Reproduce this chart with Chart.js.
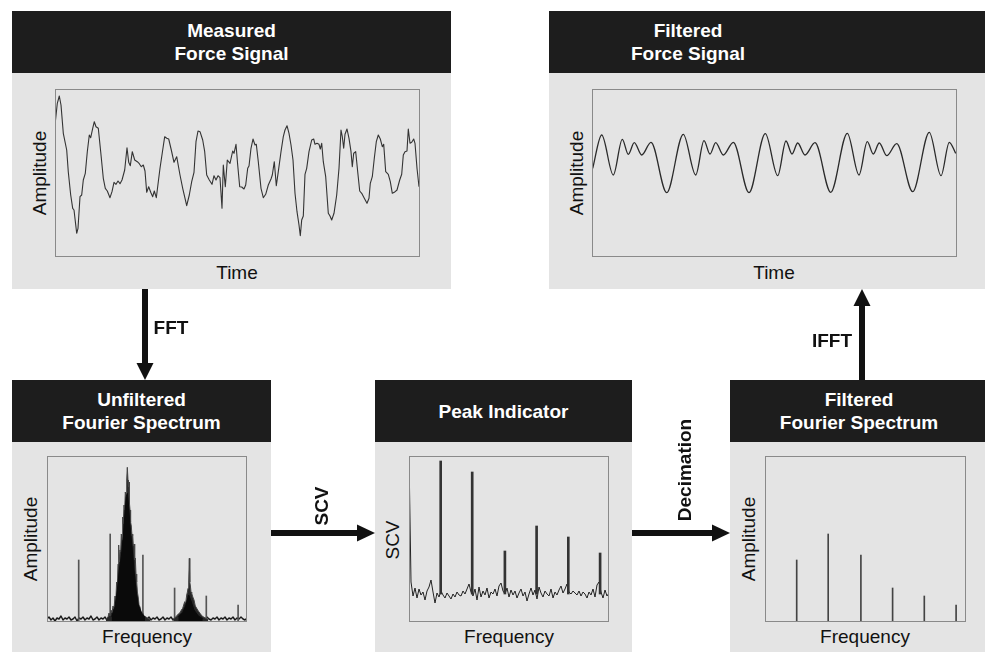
<!DOCTYPE html>
<html>
<head>
<meta charset="utf-8">
<script src="https://cdn.jsdelivr.net/npm/chart.js@4.4.1/dist/chart.umd.min.js"></script>
<style>
  body { margin:0; width:985px; height:652px; overflow:hidden; background:#fff; position:relative;
         font-family:"Liberation Sans", Arial, Helvetica, sans-serif; }
  .panel { position:absolute; background:#e4e4e4; }
  .head { position:absolute; left:0; top:0; right:0; height:62px; background:#1d1d1d; color:#fff;
          font-weight:bold; font-size:19px; line-height:23px; display:flex; flex-direction:column;
          align-items:center; justify-content:center; text-align:center; }
  .head.narrow { align-items:flex-start; }
  .head.narrow div { width:278px; }
  canvas { position:absolute; display:block; }
  .lbl { position:absolute; font-size:19px; color:#111; white-space:nowrap; transform:translate(-50%,-50%); }
  .rot { transform:translate(-50%,-50%) rotate(-90deg); }
  .b { font-weight:bold; }
  svg { position:absolute; left:0; top:0; }
</style>
</head>
<body>

<div class="panel" style="left:12px;top:11px;width:439px;height:278px"><div class="head"><div>Measured</div><div>Force Signal</div></div></div>
<div class="panel" style="left:549px;top:11px;width:439px;height:278px"><div class="head narrow"><div>Filtered</div><div>Force Signal</div></div></div>
<div class="panel" style="left:12px;top:380px;width:259px;height:280px"><div class="head"><div>Unfiltered</div><div>Fourier Spectrum</div></div></div>
<div class="panel" style="left:375px;top:380px;width:257px;height:280px"><div class="head"><div>Peak Indicator</div></div></div>
<div class="panel" style="left:730px;top:380px;width:258px;height:280px"><div class="head"><div>Filtered</div><div>Fourier Spectrum</div></div></div>

<canvas id="measured" width="365" height="168" style="left:55px;top:89px"></canvas>
<canvas id="filtered" width="365" height="168" style="left:592px;top:89px"></canvas>
<canvas id="spectrum" width="200" height="166" style="left:47px;top:456px"></canvas>
<canvas id="scv" width="200" height="166" style="left:409px;top:456px"></canvas>
<canvas id="filteredSpectrum" width="201" height="166" style="left:765px;top:456px"></canvas>

<div class="lbl" style="left:237px;top:273px">Time</div>
<div class="lbl rot" style="left:40px;top:173px">Amplitude</div>
<div class="lbl" style="left:774px;top:273px">Time</div>
<div class="lbl rot" style="left:577px;top:173px">Amplitude</div>
<div class="lbl rot" style="left:31px;top:539px">Amplitude</div>
<div class="lbl" style="left:147px;top:637px">Frequency</div>
<div class="lbl rot" style="left:393px;top:540px">SCV</div>
<div class="lbl" style="left:509px;top:637px">Frequency</div>
<div class="lbl rot" style="left:749px;top:539px">Amplitude</div>
<div class="lbl" style="left:865px;top:637px">Frequency</div>

<svg width="985" height="652">
  <g fill="#111">
    <rect x="142" y="289" width="6" height="75"/>
    <polygon points="136.5,363 153.5,363 145,380"/>
    <rect x="859" y="305" width="6" height="75"/>
    <polygon points="853.5,306 870.5,306 862,289"/>
    <rect x="271" y="530" width="87" height="6"/>
    <polygon points="357,524.5 357,541.5 375,533"/>
    <rect x="632" y="530" width="81" height="6"/>
    <polygon points="712,524.5 712,541.5 730,533"/>
  </g>
</svg>
<div class="lbl b" style="left:171px;top:328px">FFT</div>
<div class="lbl b" style="left:832px;top:341px">IFFT</div>
<div class="lbl b rot" style="left:322px;top:506px">SCV</div>
<div class="lbl b rot" style="left:685px;top:470px">Decimation</div>

<script>
// raw force trace (time, amplitude)
const measuredTime = [0,2.3,4.3,6,8.3,11.7,13.3,15.7,17.7,19,21.7,23,25,26.7,28.3,30.3,32.3,34.3,35.7,37.7,
  39.3,41,43.3,45.7,48.3,50.3,52.3,55,57,59,61,63,65,67,69.7,72,73.7,75.3,77.3,79.7,
  82.3,84.3,86.3,88.3,90,91.7,93.7,95.7,97.7,99.3,101.3,103.3,105,107.7,109.7,111.7,113.7,116.3,119,121.7,
  125,127.7,131.7,134.3,136.7,139,141,143,145,147.7,149.7,151.7,154.3,157,159,161,163,165,167,168.3,
  170.3,172.3,175,177.7,179,181,
  182.7,184.7,186.7,189,190.7,192.7,194,196,198,200,201.3,203.3,206,208.3,210.7,213.3,216,217.3,219.3,221.3,
  223.3,226,228.3,230,232,234,236,238,240,242,244,245.3,246.7,248.3,250,251.7,254,256.7,258.7,260,
  262,264,265.3,266.7,268.3,270.7,273.3,275,276.7,279,281.7,284,286,287.3,288.7,290,292,294,296,297.3,
  298.7,300.7,302.7,304.7,306.7,309.3,312,314,315.3,317.3,319.3,321.3,323.3,325.3,327.3,328.7,330.7,333.3,335.3,337.3,
  339.3,342,344.7,346.7,348.3,350,352,353.3,355,356.7,358.7,360,362,364];
const measuredAmp = [132,153.7,161,152,123.7,107,85,62,48.7,47,23.7,28.7,60.3,62,77,83.7,105.3,122,119.3,128.7,
  135.3,130.3,128.7,105.3,78.7,68.7,66,59.3,65.3,74.7,72.7,76,73.3,77,87,109.3,94.7,91.3,105.3,97,
  95.3,93.3,90.3,92,86,64.7,70.3,64.7,60.3,66,59.3,75.3,88.7,107,120.3,118.7,118,107,94.7,100.3,
  82,68.7,51.3,62,75.3,84.7,115.3,126,125.3,117,105.3,82,77,72.7,81.3,77,81.3,79.3,48.7,92,
  70.3,97,93.7,106,103.7,112.7,
  92,70.3,70,68,72,88.7,91,108.7,118,112,112.7,95.3,68.7,59.3,62.7,72,78,82,95.3,71.3,
  85.3,105.3,120.3,127,131.3,123.7,112,97,63.7,45.3,32,21.3,37,41,82.7,88.7,105.3,117,118,112.7,
  113.7,112.7,108,113.7,95.3,80.3,43.7,41,37,43.7,62,88.7,127,120.3,108.7,122.7,128,118.7,105.3,90.3,
  103.7,105.3,85.3,66,63.7,58.7,53.7,58.7,73.7,80.3,98.7,115.3,122,118,110.3,112.7,85.3,82.7,75.3,63.7,
  64.7,67,77,82.7,102,105.3,106,128,113.7,114.7,118,113.7,88.7,70.3];

// reconstructed signal, turning points only
const filteredTime = [0.7,9.7,21.3,30.3,36.3,42.3,49.7,59,74.7,91.3,103.7,112,118,123.7,131.3,141.3,
  157,173.3,185.7,194,200,205.7,213,223,238.7,255.3,267,275.3,281.3,287.3,294.7,304.7,320.7,337.3,349,357.3,363.7];
const filteredAmp = [88.7,122,82,117.7,102.7,114.3,102,114.7,64.3,122.7,82,116.3,103,114.3,102,114.7,
  64.3,123.3,81.3,116,103,114,102,114.3,64.7,123.7,82,115.3,103,114,101.3,113.3,65.3,124.7,81.3,114.7,103.7];

// harmonics kept by the filter
const harmonicFreq = [31.7,63.2,95.9,127.6,159.3,191.1];
const harmonicAmp = [62,88,67,34,26,17];
const harmonicScv = [161,150,71,96,85,69];
const scvFloor = 28;

// spectrum floor, sampled every 2 frequency units
const baselineNoise = [3,5,2,4,1,4,3,6,2,4,3,5,2,3,5,1,4,3,5,2,4,3,6,2,3,5,2,4,3,5,
  2,4,3,5,3,1,4,2,5,3,4,2,5,3,2,4,3,5,2,4,3,5,2,4,3,5,2,3,5,2,
  4,3,5,2,4,3,5,3,2,4,3,5,2,4,3,1,5,3,4,2,5,3,2,4,3,5,2,4,3,5,
  2,4,3,5,2,4,3,5,3,2,4];

// broadband humps: outer envelope (ragged strands) and dense core
const envelopeFreq = [59,61,62,63,64,65,66,67,68,68.8,69.6,70.3,71,71.7,72.3,73,73.7,74.3,75,75.7,76.3,77,77.7,78.3,79,79.7,
  80.3,81,81.5,82,82.5,83,83.6,84.3,85,85.7,86.3,87,87.7,88.3,89,89.7,90.4,91.3,92,93,94,95.7,97,99,101,103,
  115,
  126.3,128,129.7,131.3,133,134.4,135.7,136.7,137.7,138.7,139.7,140.4,141,141.7,142.3,142.8,143.4,144,144.7,145.8,147,148.3,149.7,151.3,153,155,157,159,161.3];
const envelopeAmp = [2.7,5,9,6,12,9,16,13,26,20,40,34,58,77,60,72,70,88,82,105,98,117,112,130,125,142,
  154.7,142,135,140,118,112,100,96,86,88,76,78,62,64,48,40,30,24,17,15,10,9,6,5,3.5,2.7,
  null,
  2.7,4.5,6,8,9.3,12,13.7,17,20.3,19,27,30,33.7,40,63.7,40,36,30,28.7,25,22,16,13.7,11,8.7,6,4.7,3.5,2.7];
const coreFreq = [64.7,68,70.3,72.3,74.3,76.3,78,79.3,80.3,81.7,83,85,87,89,91.3,94.7,98,
  115,
  131.3,135.7,139,141.7,143.7,147,151.3,155.7];
const coreAmp = [5.3,15.3,32,52,65.3,85.3,108.7,125.3,128.7,115.3,95.3,75.3,52,32,17,8.7,4.7,
  null,
  5.3,9.3,17,27,22,12,6,3.3];

// spectral coherence values, every 2 frequency units
const scvNoise = [166,40,26,34,24,33,27,30,22,31,35,42,30,19,29,25,31,27,24,29,
  26,23,28,25,30,27,26,31,28,33,38,30,26,33,22,35,25,31,27,34,
  24,30,28,33,26,36,39,31,28,34,25,32,27,31,24,29,33,26,30,21,
  28,34,27,32,23,35,29,25,31,28,26,33,24,30,27,32,36,29,33,38,
  30,28,31,29,27,31,26,30,28,24,30,27,33,25,37,40,30,24,32,26,29];

const pts = (xs, ys) => xs.map((x, i) => ({ x: x, y: ys[i] }));
const everyTwo = arr => arr.map((v, i) => ({ x: i * 2, y: v }));

const frameBorder = {
  id: 'frameBorder',
  afterDraw(chart) {
    const { ctx, chartArea: a } = chart;
    ctx.save();
    ctx.strokeStyle = '#8a8a8a';
    ctx.lineWidth = 1;
    ctx.strokeRect(a.left + 0.5, a.top + 0.5, a.right - a.left - 1, a.bottom - a.top - 1);
    ctx.restore();
  }
};

function opts(xMax, yMax) {
  return {
    responsive: false,
    animation: false,
    events: [],
    layout: { padding: 0 },
    plugins: { legend: { display: false }, tooltip: { enabled: false } },
    elements: { point: { radius: 0 }, line: { borderJoinStyle: 'round' } },
    scales: {
      x: { type: 'linear', display: false, min: 0, max: xMax, offset: false },
      y: { display: false, min: 0, max: yMax }
    }
  };
}

new Chart(document.getElementById('measured'), {
  type: 'line',
  data: { datasets: [{ data: pts(measuredTime, measuredAmp), borderColor: '#333', borderWidth: 1.1, tension: 0 }] },
  options: opts(365, 168),
  plugins: [frameBorder]
});

new Chart(document.getElementById('filtered'), {
  type: 'line',
  data: { datasets: [{ data: pts(filteredTime, filteredAmp), borderColor: '#2a2a2a', borderWidth: 1.3,
    cubicInterpolationMode: 'monotone' }] },
  options: opts(365, 168),
  plugins: [frameBorder]
});

new Chart(document.getElementById('spectrum'), {
  type: 'line',
  data: { datasets: [
    { data: pts(coreFreq, coreAmp), borderColor: '#0a0a0a', backgroundColor: '#0a0a0a', borderWidth: 1,
      fill: 'origin', spanGaps: false, order: 1 },
    { data: pts(envelopeFreq, envelopeAmp), borderColor: '#444', backgroundColor: '#262626', borderWidth: 1,
      fill: 'origin', spanGaps: false, order: 2 },
    { type: 'bar', data: pts(harmonicFreq, harmonicAmp), backgroundColor: '#555', barThickness: 1, order: 3 },
    { data: everyTwo(baselineNoise), borderColor: '#1a1a1a', borderWidth: 1.4, order: 4 }
  ] },
  options: opts(200, 166),
  plugins: [frameBorder]
});

new Chart(document.getElementById('scv'), {
  type: 'line',
  data: { datasets: [
    { type: 'bar', data: harmonicFreq.map((f, i) => ({ x: f, y: [scvFloor, harmonicScv[i]] })),
      backgroundColor: '#333', barThickness: 2, order: 0 },
    { data: everyTwo(scvNoise), borderColor: '#222', borderWidth: 1, order: 1 }
  ] },
  options: opts(200, 166),
  plugins: [frameBorder]
});

new Chart(document.getElementById('filteredSpectrum'), {
  type: 'bar',
  data: { datasets: [{ data: pts(harmonicFreq, harmonicAmp), backgroundColor: '#444', barThickness: 1 }] },
  options: opts(201, 166),
  plugins: [frameBorder]
});
</script>
</body>
</html>
